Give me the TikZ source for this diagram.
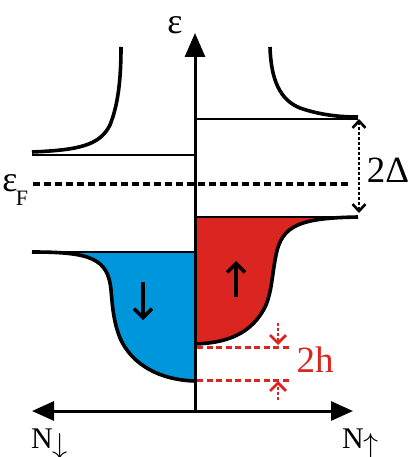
\documentclass[tikz,border=0pt]{standalone}
\usepackage{fontspec}
\setmainfont{Liberation Serif}
\usetikzlibrary{arrows.meta}
\definecolor{upred}{RGB}{218,37,32}
\definecolor{dnblue}{RGB}{0,150,219}
\begin{document}
\begin{tikzpicture}[x=1pt,y=-1pt,
  curve/.style={line width=3.6pt,line join=round},
  level/.style={line width=2.2pt},
  axis/.style={line width=3pt},
  spinarrow/.style={line width=3.4pt,-{Straight Barb[length=9pt,width=18pt]}},
  gaparrow/.style={line width=2.6pt,dash pattern=on 3pt off 2pt,{Straight Barb[length=7pt,width=13pt]}-{Straight Barb[length=7pt,width=13pt]}},
  harrow/.style={line width=2.8pt,upred,dash pattern=on 3pt off 2pt,-{Straight Barb[length=8pt,width=16pt]}},
  hline/.style={line width=3pt,upred,dash pattern=on 6pt off 3.5pt},
  lab/.style={inner sep=0pt,font=\fontsize{37}{40}\selectfont}]
\useasboundingbox (0,0) rectangle (416,457);
% fills
\fill[upred] (195,217) -- (358,217) .. controls (300,218) and (282,225) .. (276,255)
  .. controls (272,275) and (272,290) .. (266,305)
  .. controls (252,335) and (225,343) .. (195,344) -- cycle;
\fill[dnblue] (195,252) -- (32,252) .. controls (90,252) and (108,258) .. (111,290)
  .. controls (113,315) and (115,325) .. (120,338)
  .. controls (132,365) and (160,380) .. (195,381) -- cycle;
% coordinates
\coordinate (o) at (195,411);
\coordinate (top) at (195,33);
\coordinate (left) at (32,411);
\coordinate (right) at (353,411);
% levels
\draw[level] (32,155) -- (195,155);
\draw[level] (195,119) -- (358,119);
\draw[level] (195,217) -- (358,217);
\draw[level] (32,252) -- (195,252);
% BCS curves
\draw[curve] (32,152) .. controls (80,150) and (100,145) .. (110,125) .. controls (118,105) and (121,80) .. (121,47);
\draw[curve] (270,47) .. controls (271,80) and (280,100) .. (300,108) .. controls (320,115) and (340,117) .. (358,117);
% band curves
\draw[curve] (358,217) .. controls (300,218) and (282,225) .. (276,255)
  .. controls (272,275) and (272,290) .. (266,305)
  .. controls (252,335) and (225,343) .. (195,344);
\draw[curve] (32,252) .. controls (90,252) and (108,258) .. (111,290)
  .. controls (113,315) and (115,325) .. (120,338)
  .. controls (132,365) and (160,380) .. (195,381);
% axes
\draw[axis,-{Triangle[length=24pt,width=20pt]}] (o) -- (top);
\draw[axis,{Triangle[length=22pt,width=19pt]}-{Triangle[length=22pt,width=19pt]}] (left) -- (right);
% Fermi level
\coordinate (fl) at (33,184);
\coordinate (fr) at (350,184);
\draw[line width=3.2pt,dash pattern=on 7pt off 4pt] (fl) -- (fr);
% 2Delta
\coordinate (dt) at (359,119);
\coordinate (db) at (359,213);
\draw[gaparrow] (dt) -- (db);
\node[lab] (gap) at (388,170) {2Δ};
% spin arrows
\coordinate (sd1) at (143,282);
\coordinate (sd2) at (143,320);
\draw[spinarrow] (sd1) -- (sd2);
\coordinate (su1) at (236,297);
\coordinate (su2) at (236,261);
\draw[spinarrow] (su1) -- (su2);
% 2h
\draw[hline] (197,347) -- (290,347);
\draw[hline] (197,380) -- (290,380);
\coordinate (h1a) at (278,323);
\coordinate (h1b) at (278,345);
\coordinate (h2a) at (278,400);
\coordinate (h2b) at (278,381);
\draw[harrow] (h1a) -- (h1b);
\draw[harrow] (h2a) -- (h2b);
\node[lab,text=upred] (hh) at (315,360) {2h};
% labels
\node[inner sep=0pt,font=\fontsize{36}{36}\selectfont] (eps) at (175,25) {ε};
\node[inner sep=0pt,font=\fontsize{36}{36}\selectfont] (epsf) at (10,183) {ε};
\node[inner sep=0pt,font=\fontsize{22}{22}\selectfont] (F) at (22,198) {F};
\node[inner sep=0pt,font=\fontsize{30}{32}\selectfont,anchor=base west] (nd) at (31,448) {N\raisebox{-6pt}{\resizebox{!}{21pt}{$\downarrow$}}};
\node[inner sep=0pt,font=\fontsize{30}{32}\selectfont,anchor=base west] (nu) at (342,448) {N\raisebox{-6pt}{\resizebox{!}{21pt}{$\uparrow$}}};
\end{tikzpicture}
\end{document}
